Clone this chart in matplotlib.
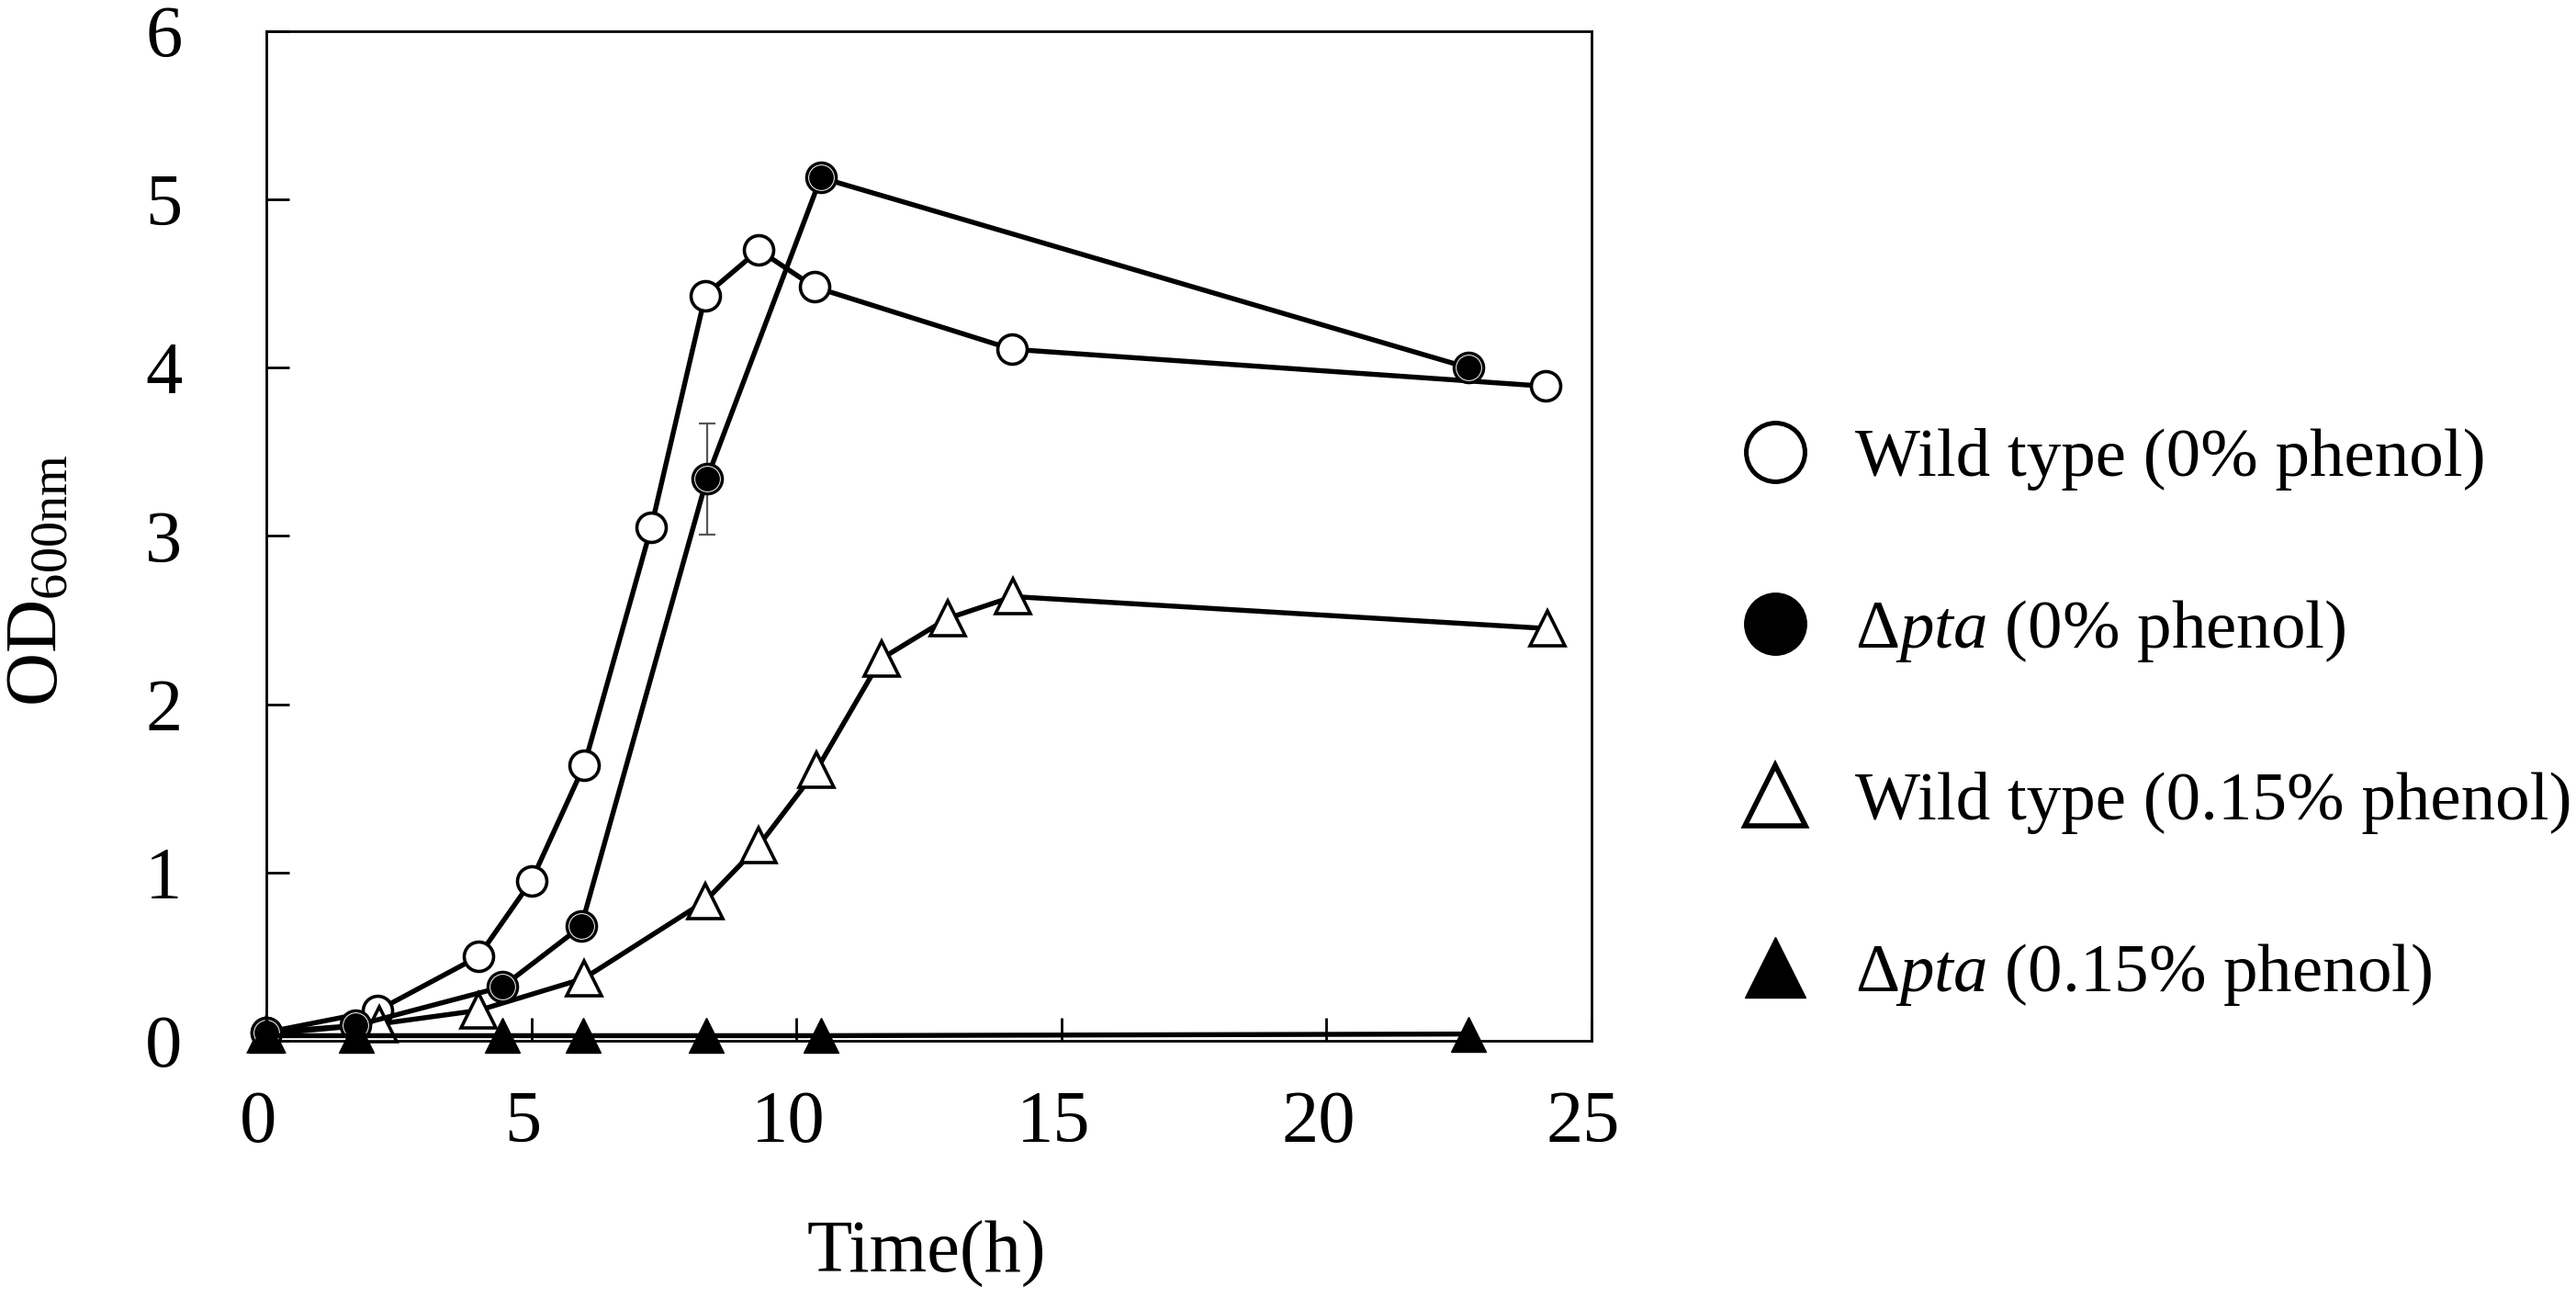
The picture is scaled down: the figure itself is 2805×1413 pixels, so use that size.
import numpy as np
import matplotlib
matplotlib.use("Agg")
import matplotlib.pyplot as plt
from matplotlib.lines import Line2D
from matplotlib.transforms import ScaledTranslation

plt.rcParams['font.family'] = ['Liberation Serif', 'DejaVu Serif']
plt.rcParams['mathtext.fontset'] = 'custom'
plt.rcParams['mathtext.rm'] = 'Liberation Serif'
plt.rcParams['mathtext.it'] = 'Liberation Serif:italic'

# time (h) and OD600 readings, per strain / condition
t_wt0 = [0, 2.1, 4.0, 5.0, 6.0, 7.26, 8.28, 9.29, 10.34, 14.07, 24.14]
od_wt0 = [0.05, 0.18, 0.50, 0.95, 1.64, 3.05, 4.43, 4.70, 4.48, 4.11, 3.89]

t_pta0 = [0, 1.68, 4.45, 5.94, 8.31, 10.46, 22.68]
od_pta0 = [0.05, 0.09, 0.32, 0.68, 3.34, 5.13, 4.00]
err_pta0 = [0, 0, 0, 0, 0.33, 0, 0]

t_wt15 = [0, 2.13, 4.0, 5.99, 8.28, 9.29, 10.38, 11.6, 12.85, 14.09, 24.17]
od_wt15 = [0.04, 0.10, 0.18, 0.37, 0.83, 1.16, 1.61, 2.27, 2.51, 2.64, 2.45]

t_pta15 = [0, 1.7, 4.45, 5.98, 8.3, 10.46, 22.68]
od_pta15 = [0.03, 0.03, 0.03, 0.03, 0.03, 0.03, 0.04]

labels = ['Wild type (0% phenol)',
          r'Δ$\mathit{pta}$ (0% phenol)',
          'Wild type (0.15% phenol)',
          r'Δ$\mathit{pta}$ (0.15% phenol)']

fig = plt.figure(figsize=(28.05, 14.13), dpi=100)
ax = fig.add_axes([0.1034, 0.1982, 0.5144, 0.7777])

lw = 3.9
ax.plot(t_wt0, od_wt0, '-o', color='black', lw=lw, ms=23, mfc='white',
        mec='black', mew=2.6, clip_on=False, zorder=3)
ax.plot(t_wt15, od_wt15, '-^', color='black', lw=lw, ms=28, mfc='white',
        mec='black', mew=2.6, clip_on=False, zorder=4)
ax.errorbar(t_pta0, od_pta0, yerr=err_pta0, fmt='none', ecolor='#555555',
            elinewidth=1.6, capsize=6.5, capthick=1.6, zorder=4.5)
ax.plot(t_pta0, od_pta0, '-o', color='black', lw=lw, ms=23, mfc='black',
        mec='black', mew=2.6, clip_on=False, zorder=5)
ax.plot(t_pta0, od_pta0, 'o', ls='none', ms=20, mfc='none', mec='white',
        mew=0.7, clip_on=False, zorder=5.1)
ax.plot(t_pta15, od_pta15, '-^', color='black', lw=lw, ms=28, mfc='black',
        mec='black', mew=1, clip_on=False, zorder=6)

ax.set_xlim(0, 25)
ax.set_ylim(0, 6)
ax.set_xticks(range(0, 26, 5))
ax.set_yticks(range(0, 7))
ax.tick_params(direction='in', length=18, width=2, labelsize=58,
               top=False, right=False)
ax.tick_params(axis='y', pad=66)
ax.tick_params(axis='x', pad=39)
for s in ax.spines.values():
    s.set_linewidth(2)
for lab in ax.get_xticklabels():
    lab.set_transform(lab.get_transform() + ScaledTranslation(-0.09, 0, fig.dpi_scale_trans))

fig.text(0.0153, 0.5527, r'OD$_{\mathregular{600nm}}$', rotation=90,
         ha='center', va='center', fontsize=58)
fig.text(0.3597, 0.0198, 'Time(h)', ha='center', va='baseline', fontsize=58)

handles = [
    Line2D([], [], ls='none', marker='o', ms=46, mfc='white', mec='black', mew=3.6),
    Line2D([], [], ls='none', marker='o', ms=46, mfc='black', mec='black', mew=3.6),
    Line2D([], [], ls='none', marker='^', ms=48, mfc='white', mec='black', mew=4),
    Line2D([], [], ls='none', marker='^', ms=48, mfc='black', mec='black', mew=1),
]
fig.legend(handles, labels, loc='center left', bbox_to_anchor=(0.6756, 0.447),
           frameon=False, fontsize=54, handlelength=1.0, handletextpad=0.67,
           labelspacing=1.56, borderpad=0, borderaxespad=0)

fig.savefig('out.png', dpi=100)
